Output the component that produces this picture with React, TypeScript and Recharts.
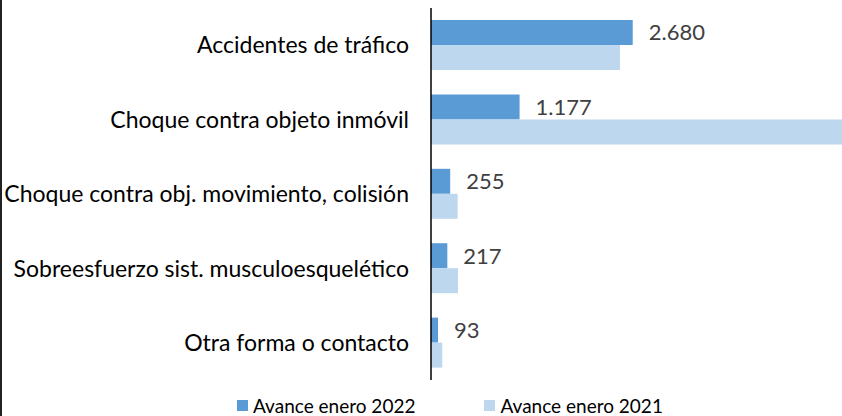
import { BarChart, Bar, XAxis, YAxis, Legend, LabelList } from 'recharts';

const categories = [
  'Accidentes de tráfico',
  'Choque contra objeto inmóvil',
  'Choque contra obj. movimiento, colisión',
  'Sobreesfuerzo sist. musculoesquelético',
  'Otra forma o contacto',
];
const values2022 = [2680, 1177, 255, 217, 93];
const values2021 = [2510, 5500, 354, 359, 150];

const data = categories.map((name, i) => ({
  name,
  v2022: values2022[i],
  v2021: values2021[i],
}));

const FONT = 'Lato, "Open Sans", sans-serif';

const fmt = (v: number) => v.toLocaleString('de-DE');

const LegendBox = () => (
  <div style={{ display: 'flex', alignItems: 'center', fontFamily: FONT, fontSize: 19, color: '#000', height: 24 }}>
    <span style={{ width: 11, height: 11, background: '#5B9BD5', marginRight: 5 }} />
    <span style={{ marginRight: 69 }}>Avance enero 2022</span>
    <span style={{ width: 11, height: 11, background: '#BDD7EE', marginRight: 5 }} />
    <span>Avance enero 2021</span>
  </div>
);

export default function App() {
  return (
    <div style={{ position: 'absolute', left: 0, top: 0, width: 842, height: 416, overflow: 'hidden', background: '#fff' }}>
      <div style={{ position: 'absolute', left: 0, top: 0, width: 2, height: 416, background: '#222' }} />
      <BarChart
        width={850}
        height={416}
        data={data}
        layout="vertical"
        margin={{ top: 8, right: 5, bottom: 12, left: 0 }}
        barGap={0}
        barCategoryGap={12}
      >
        <XAxis type="number" hide domain={[0, 5500]} allowDataOverflow />
        <YAxis
          type="category"
          dataKey="name"
          width={431}
          axisLine={{ stroke: '#000', strokeWidth: 1.5 }}
          tickLine={false}
          tickSize={0}
          tickMargin={22}
          tick={{ fill: '#000', fontSize: 23, fontFamily: FONT }}
          interval={0}
        />
        <Legend
          verticalAlign="bottom"
          content={<LegendBox />}
          wrapperStyle={{ position: 'absolute', left: 237, top: 393, width: 500, height: 24 }}
        />
        <Bar dataKey="v2022" fill="#5B9BD5" barSize={25} isAnimationActive={false}>
          <LabelList
            dataKey="v2022"
            position="right"
            offset={16}
            formatter={(v: any) => fmt(Number(v))}
            style={{ fill: '#404040', fontSize: 22, fontFamily: FONT }}
          />
        </Bar>
        <Bar dataKey="v2021" fill="#BDD7EE" barSize={25} isAnimationActive={false} />
      </BarChart>
    </div>
  );
}
